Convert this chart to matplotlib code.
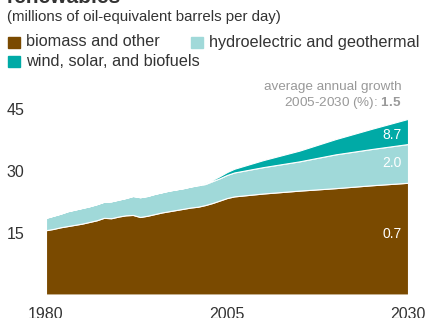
import matplotlib
matplotlib.use("Agg")
import matplotlib.pyplot as plt
from matplotlib.patches import Rectangle

plt.rcParams['font.family'] = ['Liberation Sans', 'DejaVu Sans']
plt.rcParams['mathtext.fontset'] = 'custom'
plt.rcParams['mathtext.bf'] = 'Liberation Sans:bold'
plt.rcParams['mathtext.rm'] = 'Liberation Sans'

# --- data (millions of oil-equivalent barrels per day)
years = [1980, 1981, 1982, 1983, 1984, 1985, 1986, 1987, 1988, 1989,
         1990, 1991, 1992, 1993, 1994, 1995, 1996, 1997, 1998, 1999,
         2000, 2001, 2002, 2003, 2004, 2005, 2006,
         2010, 2015, 2020, 2025, 2030]
biomass = [15.6, 15.9, 16.3, 16.6, 16.9, 17.2, 17.6, 18.0, 18.6, 18.5,
           18.9, 19.2, 19.3, 18.8, 19.1, 19.5, 19.9, 20.2, 20.5, 20.8,
           21.1, 21.3, 21.7, 22.2, 22.8, 23.4, 23.8,
           24.5, 25.2, 25.8, 26.5, 27.1]
hydro = [3.0, 3.2, 3.3, 3.6, 3.7, 3.8, 3.8, 3.9, 3.9, 4.1,
         4.1, 4.2, 4.6, 4.8, 4.8, 4.9, 4.9, 5.0, 5.0, 5.0,
         5.1, 5.2, 5.1, 5.3, 5.4, 5.6, 5.8,
         6.4, 7.1, 8.2, 8.8, 9.4]
wind = [0.0, 0.0, 0.0, 0.0, 0.0, 0.0, 0.0, 0.0, 0.0, 0.0,
        0.0, 0.0, 0.0, 0.0, 0.0, 0.0, 0.0, 0.0, 0.0, 0.0,
        0.0, 0.1, 0.2, 0.3, 0.5, 0.7, 0.9,
        1.7, 2.6, 3.7, 4.9, 6.1]
series_names = ['biomass and other', 'hydroelectric and geothermal',
                'wind, solar, and biofuels']
growth = ['0.7', '2.0', '8.7']
total_growth = '1.5'
xticks = [1980, 2005, 2030]
yticks = [15, 30, 45]

colors = ['#7a4a00', '#a0d9d9', '#00aaa6']
txt = '#333333'

W, H = 428, 318
fig = plt.figure(figsize=(W / 100, H / 100), dpi=100)
ax = fig.add_axes([46 / W, (H - 294.5) / H, 362 / W, 185.5 / H])

ax.stackplot(years, biomass, hydro, wind, colors=colors,
             edgecolor='white', linewidth=0.8)
ax.set_xlim(1980, 2030)
ax.set_ylim(0, 45)

for s in ax.spines.values():
    s.set_visible(False)
ax.set_xticks(xticks)
ax.set_yticks(yticks)
ax.tick_params(axis='x', length=0, pad=9, labelsize=11.5, labelcolor=txt)
ax.tick_params(axis='y', length=0, pad=28.5, labelsize=11.5, labelcolor=txt)
for lab in ax.get_yticklabels():
    lab.set_ha('left')

# growth labels at the right end
label_y = [14.7, 31.9, 38.7]
for g, y in zip(growth, label_y):
    ax.text(2029.1, y, g, color='white', ha='right', va='center', fontsize=10)

ax.text(2029.1, 50.3, 'average annual growth', color='#999999',
        ha='right', va='center', fontsize=9.7, clip_on=False)
ax.text(2029.1, 46.4, '2005-2030 (%): $\\mathbf{' + total_growth + '}$',
        color='#999999', ha='right', va='center', fontsize=9.7, clip_on=False)

# header
fig.text(7 / W, 1 - 3 / H, 'renewables', fontsize=15, fontweight='bold',
         color=txt, va='baseline')
fig.text(7 / W, 1 - 17 / H, '(millions of oil-equivalent barrels per day)',
         fontsize=10.8, color=txt, va='center')

legend_pos = [(8, 42), (191, 42), (8, 61)]
for (lx, ly), name, c in zip(legend_pos, series_names, colors):
    fig.patches.append(Rectangle((lx / W, 1 - (ly + 5.5) / H), 11.5 / W, 11 / H,
                                 transform=fig.transFigure, color=c))
    fig.text((lx + 18) / W, 1 - ly / H, name, fontsize=11.7, color=txt,
             va='center')

fig.savefig('out.png', dpi=100)
